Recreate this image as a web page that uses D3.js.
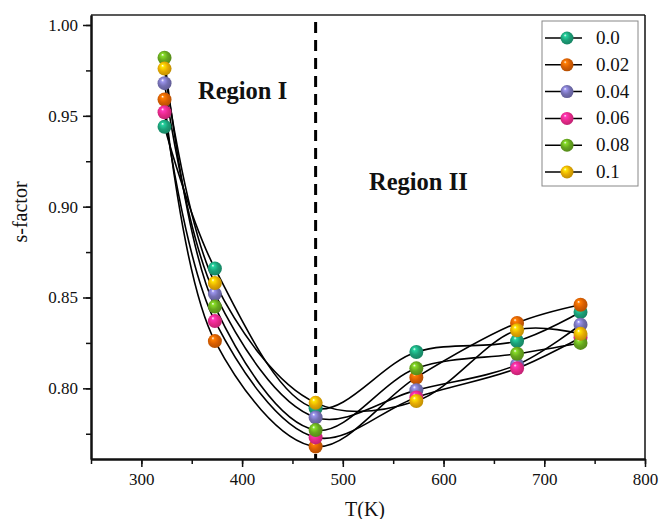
<!DOCTYPE html>
<html>
<head>
<meta charset="utf-8">
<script src="https://cdn.jsdelivr.net/npm/d3@7"></script>
<style>
  body { margin: 0; background: #fff; }
  svg { display: block; }
  text { font-family: "Liberation Serif", "DejaVu Serif", serif; fill: #111; }
</style>
</head>
<body>
<svg id="chart" width="662" height="519"></svg>
<script>
// ---- data ----
const temperatures = [323, 373, 473, 573, 673, 736];
const seriesNames = ["0.0", "0.02", "0.04", "0.06", "0.08", "0.1"];
const s_00 = [0.944, 0.866, 0.789, 0.820, 0.826, 0.842];
const s_02 = [0.959, 0.826, 0.768, 0.806, 0.836, 0.846];
const s_04 = [0.968, 0.852, 0.784, 0.799, 0.813, 0.835];
const s_06 = [0.952, 0.837, 0.773, 0.795, 0.811, 0.828];
const s_08 = [0.982, 0.845, 0.777, 0.811, 0.819, 0.825];
const s_10 = [0.976, 0.858, 0.792, 0.793, 0.832, 0.830];
const seriesColors = ["#1b9e77", "#d95f02", "#7570b3", "#e7298a", "#66a61e", "#e6ab02"];
const xTicks = [300, 400, 500, 600, 700, 800];
const yTicks = [0.80, 0.85, 0.90, 0.95, 1.00];
const boundaryT = 473;

const allSeries = [s_00, s_02, s_04, s_06, s_08, s_10].map((vals, i) => ({
  name: seriesNames[i], color: seriesColors[i],
  points: temperatures.map((t, j) => ({ t, v: vals[j] }))
}));

// ---- layout ----
const svg = d3.select("#chart");
const L = 91, R = 645, T = 15, B = 459;
const x = d3.scaleLinear().domain([250, 800]).range([L, R]);
const y = d3.scaleLinear().domain([0.7611, 1.0055]).range([B, T]);

// gradients
const defs = svg.append("defs");
allSeries.forEach((s, i) => {
  const g = defs.append("radialGradient").attr("id", "ball" + i)
    .attr("cx", "45%").attr("cy", "45%").attr("r", "60%")
    .attr("fx", "35%").attr("fy", "28%");
  const c = d3.color(s.color);
  g.append("stop").attr("offset", "0%").attr("stop-color", "#ffffff");
  g.append("stop").attr("offset", "18%").attr("stop-color", c.brighter(0.8).formatHex());
  g.append("stop").attr("offset", "55%").attr("stop-color", s.color);
  g.append("stop").attr("offset", "100%").attr("stop-color", c.darker(0.6).formatHex());
});

// frame (top/right)
svg.append("line").attr("x1", L).attr("x2", R).attr("y1", T).attr("y2", T)
  .attr("stroke", "#222").attr("stroke-width", 1.5);
svg.append("line").attr("x1", R).attr("x2", R).attr("y1", T).attr("y2", B)
  .attr("stroke", "#111").attr("stroke-width", 1.5);

// axes
const xAxisMinor = d3.axisBottom(x).tickValues(d3.range(250, 801, 50)).tickSize(5).tickSizeOuter(0).tickFormat("");
const xAxis = d3.axisBottom(x).tickValues(xTicks).tickSize(8).tickSizeOuter(0).tickPadding(6).tickFormat(d3.format("d"));
const yAxisMinor = d3.axisLeft(y).tickValues(d3.range(0.775, 1.001, 0.025)).tickSize(5).tickSizeOuter(0).tickFormat("");
const yAxis = d3.axisLeft(y).tickValues(yTicks).tickSize(8).tickSizeOuter(0).tickPadding(5).tickFormat(d3.format(".2f"));

function styleAxis(g) {
  g.select(".domain").attr("stroke", "#111").attr("stroke-width", 2);
  g.selectAll(".tick line").attr("stroke", "#111").attr("stroke-width", 1.5);
  g.selectAll("text").attr("font-size", 17).attr("fill", "#111")
    .style("font-family", '"Liberation Serif", serif');
}
svg.append("g").attr("transform", `translate(0,${B})`).call(xAxisMinor).call(styleAxis);
svg.append("g").attr("transform", `translate(0,${B})`).call(xAxis).call(styleAxis);
svg.append("g").attr("transform", `translate(${L},0)`).call(yAxisMinor).call(styleAxis);
svg.append("g").attr("transform", `translate(${L},0)`).call(yAxis).call(styleAxis);

// axis titles
svg.append("text").attr("x", (L + R) / 2 - 3).attr("y", 516).attr("text-anchor", "middle")
  .attr("font-size", 20).text("T(K)");
svg.append("text").attr("transform", "translate(27,212) rotate(-90)").attr("text-anchor", "middle")
  .attr("font-size", 20).text("s-factor");

// dashed boundary
svg.append("line").attr("x1", x(boundaryT)).attr("x2", x(boundaryT))
  .attr("y1", 22).attr("y2", B)
  .attr("stroke", "#000").attr("stroke-width", 3).attr("stroke-dasharray", "11,7");

// region labels
svg.append("text").attr("x", 198).attr("y", 99).attr("font-size", 24.5).attr("font-weight", "bold").text("Region I");
svg.append("text").attr("x", 369).attr("y", 190).attr("font-size", 24.5).attr("font-weight", "bold").text("Region II");

// lines
const line = d3.line().x(d => x(d.t)).y(d => y(d.v)).curve(d3.curveCatmullRom.alpha(0.5));
svg.append("g").selectAll("path").data(allSeries).join("path")
  .attr("d", d => line(d.points)).attr("fill", "none")
  .attr("stroke", "#000").attr("stroke-width", 1.6);

// points
const pg = svg.append("g");
allSeries.forEach((s, i) => {
  pg.append("g").selectAll("circle").data(s.points).join("circle")
    .attr("cx", d => x(d.t)).attr("cy", d => y(d.v)).attr("r", 7)
    .attr("fill", `url(#ball${i})`);
});

// legend
const lg = svg.append("g");
lg.append("rect").attr("x", 542).attr("y", 21).attr("width", 96).attr("height", 165)
  .attr("fill", "#fff").attr("stroke", "#888").attr("stroke-width", 1);
allSeries.forEach((s, i) => {
  const cy = 38 + i * 26.8;
  lg.append("line").attr("x1", 545).attr("x2", 582).attr("y1", cy).attr("y2", cy)
    .attr("stroke", "#000").attr("stroke-width", 1.5);
  lg.append("circle").attr("cx", 567).attr("cy", cy).attr("r", 6.5).attr("fill", `url(#ball${i})`);
  lg.append("text").attr("x", 596).attr("y", cy + 6).attr("font-size", 19).text(s.name);
});
</script>
</body>
</html>
